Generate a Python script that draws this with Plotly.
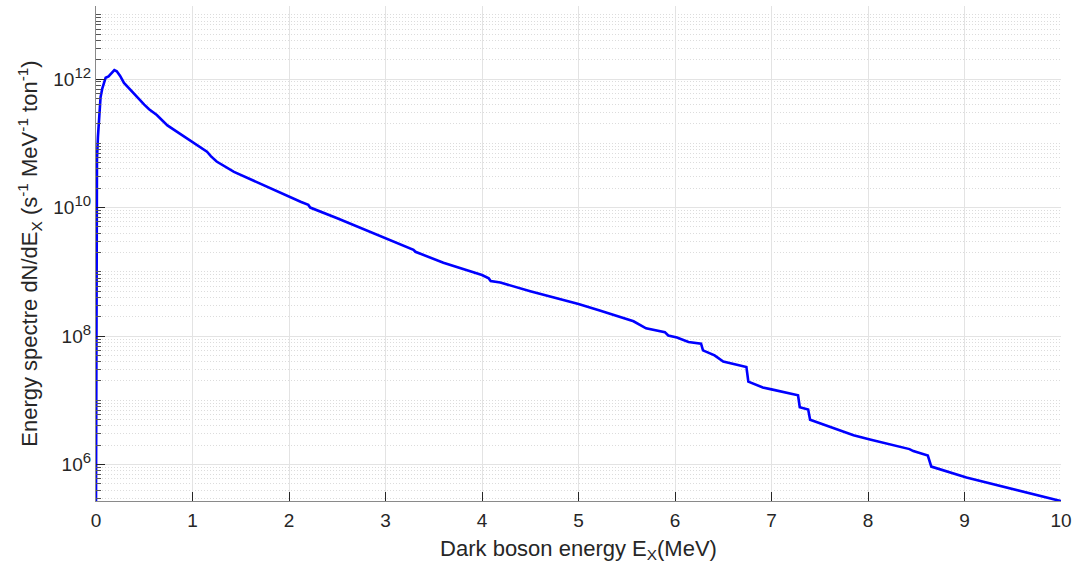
import plotly.graph_objects as go

# Data
energy_mev = [0.0, 0.003, 0.006, 0.01, 0.02, 0.03, 0.047, 0.065, 0.085, 0.10, 0.13, 0.15,
              0.19, 0.215, 0.25, 0.29, 0.34, 0.39, 0.44, 0.50, 0.55, 0.63, 0.74, 0.87,
              0.98, 1.10, 1.15, 1.19, 1.25, 1.43, 1.77, 2.0, 2.12, 2.20, 2.22, 2.5,
              3.0, 3.29, 3.31, 3.6, 4.0, 4.07, 4.09, 4.19, 4.5, 5.0, 5.22, 5.57, 5.70,
              5.895, 5.93, 6.02, 6.14, 6.27, 6.29, 6.36, 6.41, 6.50, 6.74, 6.76, 6.91,
              7.0, 7.275, 7.293, 7.38, 7.40, 7.64, 7.85, 8.02, 8.33, 8.43, 8.47, 8.62,
              8.656, 9.02, 10.0]
spectrum = [2.7e5, 1.0e8, 1.6e10, 5.6e10, 1.26e11, 2.5e11, 5.2e11, 7.1e11, 9.1e11, 1.05e12,
            1.10e12, 1.2e12, 1.38e12, 1.32e12, 1.12e12, 8.7e11, 7.2e11, 6.0e11, 5.0e11,
            4.0e11, 3.4e11, 2.75e11, 1.9e11, 1.41e11, 1.1e11, 8.3e10, 7.4e10, 6.3e10,
            5.2e10, 3.6e10, 2.1e10, 1.48e10, 1.23e10, 1.1e10, 1.0e10, 6.8e9, 3.3e9,
            2.2e9, 2.05e9, 1.38e9, 8.9e8, 7.9e8, 7.2e8, 6.8e8, 5.0e8, 3.16e8, 2.5e8,
            1.7e8, 1.32e8, 1.15e8, 1.02e8, 9.5e7, 8.1e7, 7.6e7, 6.0e7, 5.4e7, 5.0e7,
            4.0e7, 3.3e7, 1.95e7, 1.58e7, 1.48e7, 1.2e7, 7.8e6, 7.2e6, 5.0e6, 3.7e6,
            2.85e6, 2.45e6, 1.86e6, 1.74e6, 1.62e6, 1.38e6, 9.3e5, 6.3e5, 2.7e5]

y_major_ticks = [1e6, 1e8, 1e10, 1e12]
y_exponents = ["6", "8", "10", "12"]
x_ticks = [0, 1, 2, 3, 4, 5, 6, 7, 8, 9, 10]

y_major_text = ["10<sup><span style='font-size:15px'>%s</span></sup>" % e for e in y_exponents]
minor_vals = [k * 10.0 ** d for d in range(5, 14) for k in range(1, 10)
              if not (k == 1 and d % 2 == 0)]

font_family = "Liberation Sans, Arial, Helvetica, sans-serif"
axis_color = "#262626"
grid_color = "#e3e3e3"

fig = go.Figure()
fig.add_trace(go.Scatter(
    x=energy_mev, y=spectrum, mode="lines",
    line=dict(color="#0000ff", width=2.6),
    showlegend=False,
))

fig.update_layout(
    width=1083, height=565,
    margin=dict(l=96, r=22, t=6, b=64),
    paper_bgcolor="white", plot_bgcolor="white",
    font=dict(family=font_family, size=18, color=axis_color),
)

fig.update_xaxes(
    range=[0, 10], tickvals=x_ticks, ticktext=[str(v) for v in x_ticks],
    ticks="inside", ticklen=9, tickwidth=1, tickcolor=axis_color,
    showline=True, linecolor="#8a8a8a", linewidth=1.2, automargin=False,
    showgrid=True, gridcolor=grid_color, gridwidth=1, zeroline=False,
    tickfont=dict(size=19, color=axis_color), ticklabelstandoff=2,
    title=dict(text="Dark boson energy E<sub>X</sub>(MeV)", font=dict(size=22, color=axis_color),
               standoff=10),
)

fig.update_yaxes(
    type="log", range=[5.433, 13.137],
    tickmode="array", tickvals=y_major_ticks, ticktext=y_major_text,
    ticks="inside", ticklen=9, tickwidth=1, tickcolor=axis_color,
    showline=True, linecolor="#8a8a8a", linewidth=1.2, automargin=False,
    showgrid=True, gridcolor=grid_color, gridwidth=1, zeroline=False,
    tickfont=dict(size=19, color=axis_color),
    minor=dict(tickmode="array", tickvals=minor_vals, ticks="inside", ticklen=5,
               tickcolor="#555555", showgrid=True, griddash="1px,2px", gridcolor="#dcdcdc",
               gridwidth=1),
    title=dict(text="Energy spectre dN/dE<sub>X</sub> (s<sup>-1</sup> MeV<sup>-1</sup> ton<sup>-1</sup>)",
               font=dict(size=22, color=axis_color), standoff=9),
)

fig.write_html("out.html", config={"displayModeBar": False},
               post_script="document.body.style.margin='0px';")
